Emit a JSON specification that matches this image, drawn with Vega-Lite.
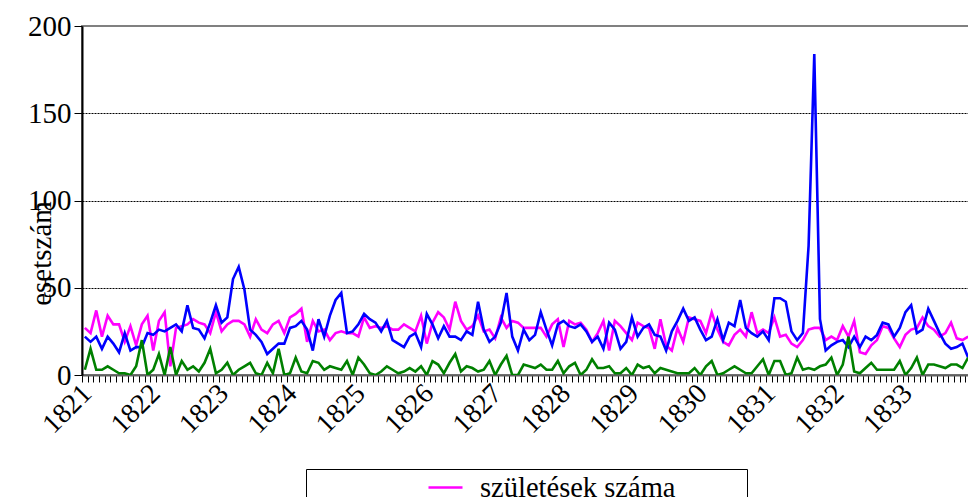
{
  "$schema": "https://vega.github.io/schema/vega-lite/v6.json",
  "autosize": "none",
  "padding": {"left": 82, "top": 26, "right": 0, "bottom": 122},
  "width": 889,
  "height": 349,
  "background": "white",
  "config": {
    "view": {"stroke": "#808080", "strokeWidth": 2},
    "font": "Liberation Serif"
  },
  "data": {"values": [
{"m":0,"születések száma":27,"halálozások száma":22,"házasságkötések száma":3},
{"m":1,"születések száma":24,"halálozások száma":19,"házasságkötések száma":15},
{"m":2,"születések száma":37,"halálozások száma":22,"házasságkötések száma":3},
{"m":3,"születések száma":22,"halálozások száma":15,"házasságkötések száma":3},
{"m":4,"születések száma":34,"halálozások száma":22,"házasságkötések száma":5},
{"m":5,"születések száma":29,"halálozások száma":18,"házasságkötések száma":3},
{"m":6,"születések száma":29,"halálozások száma":13,"házasságkötések száma":1},
{"m":7,"születések száma":19,"halálozások száma":24,"házasságkötések száma":1},
{"m":8,"születések száma":28,"halálozások száma":14,"házasságkötések száma":0},
{"m":9,"születések száma":17,"halálozások száma":16,"házasságkötések száma":5},
{"m":10,"születések száma":29,"halálozások száma":16,"házasságkötések száma":20},
{"m":11,"születések száma":34,"halálozások száma":24,"házasságkötések száma":0},
{"m":12,"születések száma":14,"halálozások száma":23,"házasságkötések száma":3},
{"m":13,"születések száma":31,"halálozások száma":26,"házasságkötések száma":12},
{"m":14,"születések száma":36,"halálozások száma":25,"házasságkötések száma":0},
{"m":15,"születések száma":5,"halálozások száma":27,"házasságkötések száma":16},
{"m":16,"születések száma":27,"halálozások száma":29,"házasságkötések száma":0},
{"m":17,"születések száma":28,"halálozások száma":25,"házasságkötések száma":8},
{"m":18,"születések száma":29,"halálozások száma":40,"házasságkötések száma":3},
{"m":19,"születések száma":32,"halálozások száma":27,"házasságkötések száma":5},
{"m":20,"születések száma":30,"halálozások száma":26,"házasságkötések száma":2},
{"m":21,"születések száma":29,"halálozások száma":21,"házasságkötések száma":7},
{"m":22,"születések száma":24,"halálozások száma":30,"házasságkötések száma":15},
{"m":23,"születések száma":36,"halálozások száma":40,"házasságkötések száma":1},
{"m":24,"születések száma":25,"halálozások száma":30,"házasságkötések száma":3},
{"m":25,"születések száma":29,"halálozások száma":33,"házasságkötések száma":7},
{"m":26,"születések száma":31,"halálozások száma":55,"házasságkötések száma":0},
{"m":27,"születések száma":31,"halálozások száma":62,"házasságkötések száma":3},
{"m":28,"születések száma":29,"halálozások száma":49,"házasságkötések száma":5},
{"m":29,"születések száma":22,"halálozások száma":26,"házasságkötések száma":7},
{"m":30,"születések száma":32,"halálozások száma":23,"házasságkötések száma":1},
{"m":31,"születések száma":26,"halálozások száma":19,"házasságkötések száma":0},
{"m":32,"születések száma":24,"halálozások száma":12,"házasságkötések száma":7},
{"m":33,"születések száma":29,"halálozások száma":15,"házasságkötések száma":1},
{"m":34,"születések száma":31,"halálozások száma":18,"házasságkötések száma":15},
{"m":35,"születések száma":24,"halálozások száma":18,"házasságkötések száma":0},
{"m":36,"születések száma":33,"halálozások száma":27,"házasságkötések száma":1},
{"m":37,"születések száma":35,"halálozások száma":28,"házasságkötések száma":10},
{"m":38,"születések száma":38,"halálozások száma":31,"házasságkötések száma":2},
{"m":39,"születések száma":19,"halálozások száma":26,"házasságkötések száma":1},
{"m":40,"születések száma":31,"halálozások száma":14,"házasságkötések száma":8},
{"m":41,"születések száma":25,"halálozások száma":32,"házasságkötések száma":7},
{"m":42,"születések száma":26,"halálozások száma":22,"házasságkötések száma":3},
{"m":43,"születések száma":20,"halálozások száma":34,"házasságkötések száma":5},
{"m":44,"születések száma":24,"halálozások száma":43,"házasságkötések száma":4},
{"m":45,"születések száma":25,"halálozások száma":47,"házasságkötések száma":3},
{"m":46,"születések száma":24,"halálozások száma":24,"házasságkötések száma":8},
{"m":47,"születések száma":24,"halálozások száma":25,"házasságkötések száma":0},
{"m":48,"születések száma":22,"halálozások száma":29,"házasságkötések száma":10},
{"m":49,"születések száma":33,"halálozások száma":35,"házasságkötések száma":6},
{"m":50,"születések száma":27,"halálozások száma":32,"házasságkötések száma":1},
{"m":51,"születések száma":28,"halálozások száma":30,"házasságkötések száma":0},
{"m":52,"születések száma":27,"halálozások száma":25,"házasságkötések száma":2},
{"m":53,"születések száma":28,"halálozások száma":31,"házasságkötések száma":5},
{"m":54,"születések száma":26,"halálozások száma":20,"házasságkötések száma":3},
{"m":55,"születések száma":26,"halálozások száma":18,"házasságkötések száma":1},
{"m":56,"születések száma":29,"halálozások száma":16,"házasságkötések száma":2},
{"m":57,"születések száma":27,"halálozások száma":22,"házasságkötések száma":4},
{"m":58,"születések száma":25,"halálozások száma":24,"házasságkötések száma":2},
{"m":59,"születések száma":34,"halálozások száma":16,"házasságkötések száma":5},
{"m":60,"születések száma":18,"halálozások száma":35,"házasságkötések száma":0},
{"m":61,"születések száma":30,"halálozások száma":29,"házasságkötések száma":8},
{"m":62,"születések száma":36,"halálozások száma":21,"házasságkötések száma":6},
{"m":63,"születések száma":33,"halálozások száma":28,"házasságkötések száma":1},
{"m":64,"születések száma":26,"halálozások száma":22,"házasságkötések száma":7},
{"m":65,"születések száma":42,"halálozások száma":22,"házasságkötések száma":12},
{"m":66,"születések száma":31,"halálozások száma":20,"házasságkötések száma":2},
{"m":67,"születések száma":26,"halálozások száma":25,"házasságkötések száma":5},
{"m":68,"születések száma":28,"halálozások száma":23,"házasságkötések száma":4},
{"m":69,"születések száma":34,"halálozások száma":42,"házasságkötések száma":2},
{"m":70,"születések száma":25,"halálozások száma":26,"házasságkötések száma":3},
{"m":71,"születések száma":26,"halálozások száma":19,"házasságkötések száma":8},
{"m":72,"születések száma":21,"halálozások száma":22,"házasságkötések száma":0},
{"m":73,"születések száma":33,"halálozások száma":30,"házasságkötések száma":6},
{"m":74,"születések száma":27,"halálozások száma":47,"házasságkötések száma":11},
{"m":75,"születések száma":31,"halálozások száma":22,"házasságkötések száma":0},
{"m":76,"születések száma":30,"halálozások száma":14,"házasságkötések száma":0},
{"m":77,"születések száma":27,"halálozások száma":26,"házasságkötések száma":6},
{"m":78,"születések száma":27,"halálozások száma":20,"házasságkötések száma":5},
{"m":79,"születések száma":27,"halálozások száma":23,"házasságkötések száma":4},
{"m":80,"születések száma":27,"halálozások száma":36,"házasságkötések száma":6},
{"m":81,"születések száma":22,"halálozások száma":26,"házasságkötések száma":3},
{"m":82,"születések száma":29,"halálozások száma":17,"házasságkötések száma":3},
{"m":83,"születések száma":32,"halálozások száma":29,"házasságkötések száma":8},
{"m":84,"születések száma":16,"halálozások száma":31,"házasságkötések száma":1},
{"m":85,"születések száma":31,"halálozások száma":28,"házasságkötések száma":5},
{"m":86,"születések száma":29,"halálozások száma":27,"házasságkötések száma":7},
{"m":87,"születések száma":30,"halálozások száma":29,"házasságkötések száma":0},
{"m":88,"születések száma":26,"halálozások száma":25,"házasságkötések száma":3},
{"m":89,"születések száma":19,"halálozások száma":19,"házasságkötések száma":9},
{"m":90,"születések száma":24,"halálozások száma":22,"házasságkötések száma":4},
{"m":91,"születések száma":31,"halálozások száma":15,"házasságkötések száma":4},
{"m":92,"születések száma":14,"halálozások száma":30,"házasságkötések száma":5},
{"m":93,"születések száma":31,"halálozások száma":26,"házasságkötések száma":1},
{"m":94,"születések száma":28,"halálozások száma":15,"házasságkötések száma":1},
{"m":95,"születések száma":24,"halálozások száma":19,"házasságkötések száma":4},
{"m":96,"születések száma":20,"halálozások száma":33,"házasságkötések száma":0},
{"m":97,"születések száma":30,"halálozások száma":22,"házasságkötések száma":6},
{"m":98,"születések száma":28,"halálozások száma":27,"házasságkötések száma":4},
{"m":99,"születések száma":27,"halálozások száma":29,"házasságkötések száma":5},
{"m":100,"születések száma":15,"halálozások száma":23,"házasságkötések száma":1},
{"m":101,"születések száma":32,"halálozások száma":22,"házasságkötések száma":4},
{"m":102,"születések száma":17,"halálozások száma":14,"házasságkötések száma":3},
{"m":103,"születések száma":14,"halálozások száma":25,"házasságkötések száma":2},
{"m":104,"születések száma":27,"halálozások száma":31,"házasságkötések száma":1},
{"m":105,"születések száma":19,"halálozások száma":38,"házasságkötések száma":1},
{"m":106,"születések száma":33,"halálozások száma":31,"házasságkötések száma":1},
{"m":107,"születések száma":32,"halálozások száma":33,"házasságkötések száma":4},
{"m":108,"születések száma":31,"halálozások száma":26,"házasságkötések száma":0},
{"m":109,"születések száma":24,"halálozások száma":20,"házasságkötések száma":5},
{"m":110,"születések száma":36,"halálozások száma":22,"házasságkötések száma":8},
{"m":111,"születések száma":26,"halálozások száma":32,"házasságkötések száma":0},
{"m":112,"születések száma":19,"halálozások száma":20,"házasságkötések száma":1},
{"m":113,"születések száma":17,"halálozások száma":30,"házasságkötések száma":3},
{"m":114,"születések száma":23,"halálozások száma":28,"házasságkötések száma":5},
{"m":115,"születések száma":26,"halálozások száma":43,"házasságkötések száma":3},
{"m":116,"születések száma":22,"halálozások száma":27,"házasságkötések száma":1},
{"m":117,"születések száma":36,"halálozások száma":24,"házasságkötések száma":1},
{"m":118,"születések száma":24,"halálozások száma":22,"házasságkötések száma":5},
{"m":119,"születések száma":26,"halálozások száma":25,"házasságkötések száma":9},
{"m":120,"születések száma":24,"halálozások száma":20,"házasságkötések száma":0},
{"m":121,"születések száma":33,"halálozások száma":44,"házasságkötések száma":8},
{"m":122,"születések száma":22,"halálozások száma":44,"házasságkötések száma":8},
{"m":123,"születések száma":23,"halálozások száma":42,"házasságkötések száma":0},
{"m":124,"születések száma":18,"halálozások száma":25,"házasságkötések száma":1},
{"m":125,"születések száma":16,"halálozások száma":20,"házasságkötések száma":10},
{"m":126,"születések száma":20,"halálozások száma":24,"házasságkötések száma":3},
{"m":127,"születések száma":26,"halálozások száma":74,"házasságkötések száma":4},
{"m":128,"születések száma":27,"halálozások száma":184,"házasságkötések száma":3},
{"m":129,"születések száma":27,"halálozások száma":32,"házasságkötések száma":5},
{"m":130,"születések száma":20,"halálozások száma":14,"házasságkötések száma":6},
{"m":131,"születések száma":22,"halálozások száma":17,"házasságkötések száma":10},
{"m":132,"születések száma":20,"halálozások száma":19,"házasságkötések száma":0},
{"m":133,"születések száma":28,"halálozások száma":20,"házasságkötések száma":6},
{"m":134,"születések száma":22,"halálozások száma":16,"házasságkötések száma":22},
{"m":135,"születések száma":31,"halálozások száma":22,"házasságkötések száma":2},
{"m":136,"születések száma":13,"halálozások száma":16,"házasságkötések száma":1},
{"m":137,"születések száma":12,"halálozások száma":22,"házasságkötések száma":4},
{"m":138,"születések száma":17,"halálozások száma":20,"házasságkötések száma":7},
{"m":139,"születések száma":20,"halálozások száma":23,"házasságkötések száma":3},
{"m":140,"születések száma":28,"halálozások száma":30,"házasságkötések száma":3},
{"m":141,"születések száma":27,"halálozások száma":29,"házasságkötések száma":3},
{"m":142,"születések száma":21,"halálozások száma":22,"házasságkötések száma":3},
{"m":143,"születések száma":16,"halálozások száma":27,"házasságkötések száma":8},
{"m":144,"születések száma":23,"halálozások száma":36,"házasságkötések száma":0},
{"m":145,"születések száma":26,"halálozások száma":40,"házasságkötések száma":4},
{"m":146,"születések száma":27,"halálozások száma":24,"házasságkötések száma":10},
{"m":147,"születések száma":33,"halálozások száma":26,"házasságkötések száma":0},
{"m":148,"születések száma":28,"halálozások száma":38,"házasságkötések száma":6},
{"m":149,"születések száma":26,"halálozások száma":31,"házasságkötések száma":6},
{"m":150,"születések száma":22,"halálozások száma":24,"házasságkötések száma":5},
{"m":151,"születések száma":24,"halálozások száma":18,"házasságkötések száma":4},
{"m":152,"születések száma":30,"halálozások száma":15,"házasságkötések száma":6},
{"m":153,"születések száma":21,"halálozások száma":16,"házasságkötések száma":6},
{"m":154,"születések száma":20,"halálozások száma":18,"házasságkötések száma":4},
{"m":155,"születések száma":22,"halálozások száma":10,"házasságkötések száma":10}
  ]},
  "transform": [
    {"fold": ["születések száma", "halálozások száma", "házasságkötések száma"], "as": ["sorozat", "esetszám"]}
  ],
  "mark": {"type": "line", "strokeWidth": 2.6, "clip": true},
  "encoding": {
    "x": {
      "field": "m", "type": "quantitative",
      "scale": {"domain": [-0.5, 155.5], "nice": false, "zero": false},
      "axis": {
        "title": null,
        "values": [-0.5,0.5,1.5,2.5,3.5,4.5,5.5,6.5,7.5,8.5,9.5,10.5,11.5,12.5,13.5,14.5,15.5,16.5,17.5,18.5,19.5,20.5,21.5,22.5,23.5,24.5,25.5,26.5,27.5,28.5,29.5,30.5,31.5,32.5,33.5,34.5,35.5,36.5,37.5,38.5,39.5,40.5,41.5,42.5,43.5,44.5,45.5,46.5,47.5,48.5,49.5,50.5,51.5,52.5,53.5,54.5,55.5,56.5,57.5,58.5,59.5,60.5,61.5,62.5,63.5,64.5,65.5,66.5,67.5,68.5,69.5,70.5,71.5,72.5,73.5,74.5,75.5,76.5,77.5,78.5,79.5,80.5,81.5,82.5,83.5,84.5,85.5,86.5,87.5,88.5,89.5,90.5,91.5,92.5,93.5,94.5,95.5,96.5,97.5,98.5,99.5,100.5,101.5,102.5,103.5,104.5,105.5,106.5,107.5,108.5,109.5,110.5,111.5,112.5,113.5,114.5,115.5,116.5,117.5,118.5,119.5,120.5,121.5,122.5,123.5,124.5,125.5,126.5,127.5,128.5,129.5,130.5,131.5,132.5,133.5,134.5,135.5,136.5,137.5,138.5,139.5,140.5,141.5,142.5,143.5,144.5,145.5,146.5,147.5,148.5,149.5,150.5,151.5,152.5,153.5,154.5,155.5],
        "labelExpr": "(datum.value + 0.5) % 12 == 0 && datum.value < 150 ? '' + (1821 + (datum.value + 0.5) / 12) : ''",
        "labelAngle": -45,
        "labelAlign": "right",
        "labelBaseline": "middle",
        "labelFont": "Liberation Serif",
        "labelFontSize": 28,
        "labelColor": "black",
        "labelOverlap": false,
        "labelFlush": false,
        "labelPadding": 7,
        "labelOffset": 5,
        "tickColor": "black",
        "tickSize": 7,
        "tickWidth": 1,
        "domainColor": "#606060",
        "domainWidth": 2,
        "grid": false
      }
    },
    "y": {
      "field": "esetszám", "type": "quantitative",
      "scale": {"domain": [0, 200], "nice": false},
      "axis": {
        "values": [0, 50, 100, 150, 200],
        "title": "esetszám",
        "titleFont": "Liberation Serif",
        "titleFontSize": 29,
        "titleFontWeight": "normal",
        "titleColor": "black",
        "titleAngle": 270,
        "titleX": -32,
        "titleY": 227,
        "titleAlign": "center",
        "titleBaseline": "alphabetic",
        "labelFont": "Liberation Serif",
        "labelFontSize": 29,
        "labelColor": "black",
        "labelPadding": 3,
        "labelBaseline": "middle",
        "tickColor": "black",
        "tickSize": 8,
        "tickWidth": 1,
        "domainColor": "black",
        "domainWidth": 2,
        "grid": true,
        "gridColor": {"condition": {"test": "datum.value == 200", "value": "#808080"}, "value": "black"},
        "gridDash": {"condition": {"test": "datum.value == 200", "value": []}, "value": [2, 1]},
        "gridWidth": 1
      }
    },
    "color": {
      "field": "sorozat", "type": "nominal",
      "scale": {
        "domain": ["születések száma", "halálozások száma", "házasságkötések száma"],
        "range": ["#FF00FF", "#0000FF", "#008000"]
      },
      "legend": {
        "title": null,
        "orient": "none",
        "legendX": 224,
        "legendY": 443,
        "direction": "vertical",
        "symbolType": "stroke",
        "symbolSize": 1156,
        "symbolStrokeWidth": 2.5,
        "symbolOffset": 121,
        "labelFont": "Liberation Serif",
        "labelFontSize": 28.5,
        "labelColor": "black",
        "labelOffset": 16,
        "labelLimit": 400,
        "strokeColor": "black",
        "fillColor": "white",
        "padding": 0,
        "rowPadding": 2
      }
    }
  }
}
